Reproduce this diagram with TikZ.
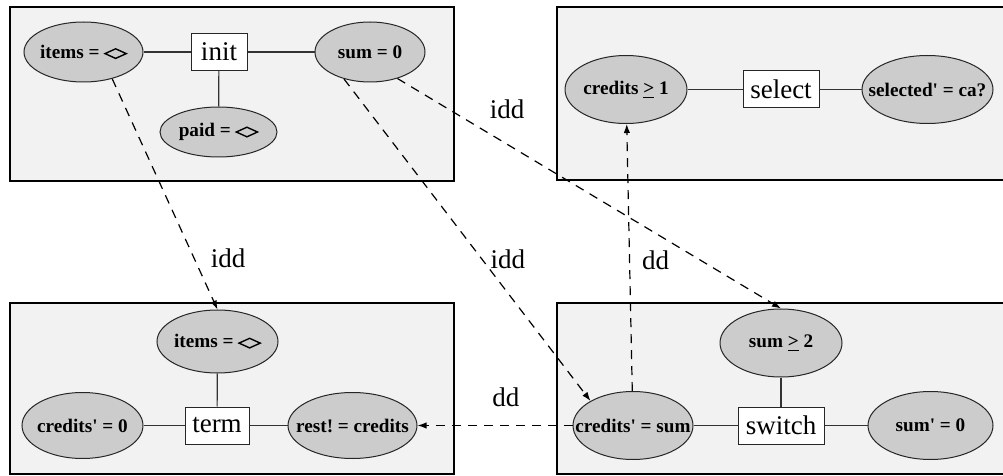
\documentclass[tikz,border=0pt]{standalone}
\usepackage{fontspec}
\setmainfont{Liberation Serif}
\usepackage{tikz}
\usetikzlibrary{arrows.meta,shapes.geometric,positioning}
\definecolor{panelgray}{HTML}{F2F2F2}
\definecolor{predgray}{HTML}{CCCCCC}
\frenchspacing
\newcommand{\emptyseq}{\tikz[baseline=0pt]\draw[line width=0.7pt,solid] (0pt,2.3pt) -- (5.3pt,4.7pt) -- (10.6pt,2.3pt) -- (5.3pt,-0.1pt) -- cycle;}
\newcommand{\ptxt}[1]{\makebox[0pt]{#1}}
\newcommand{\pr}{\textquotesingle}
\newcommand{\atleast}{\underline{>}}

\begin{document}
\begin{tikzpicture}[x=0.5pt,y=-0.5pt,>={Latex[length=4.5pt,width=3.2pt]},
  panel/.style={draw,line width=1.1pt,fill=panelgray},
  pred/.style={ellipse,draw=black!85,fill=predgray,line width=0.5pt,inner sep=0pt,font=\bfseries\fontsize{9.6}{11}\selectfont},
  opbox/.style={rectangle,draw=black!85,fill=white,line width=0.5pt,inner sep=0pt,minimum height=18.5pt,font=\fontsize{13.5}{16}\selectfont},
  link/.style={black!80,line width=0.6pt},
  dep/.style={->,dash pattern=on 4.5pt off 3.5pt,line width=0.6pt},
  deplab/.style={inner sep=0pt,font=\fontsize{13.5}{16}\selectfont}]
  \useasboundingbox (0,0) rectangle (1003,476);
  \clip (0,0) rectangle (1003,476);
  % schema boxes
  \draw[panel] (10,7) rectangle (454,181);
  \draw[panel] (557,7) rectangle (1010,180);
  \draw[panel] (10,303) rectangle (454,474);
  \draw[panel] (557,303) rectangle (1010,474);
  % init
  \node[opbox,minimum width=28pt] (init) at (219,52) {init};
  \node[pred,minimum width=59.5pt,minimum height=30pt] (itemsA) at (83.5,52) {\ptxt{items = \emptyseq}};
  \node[pred,minimum width=55pt,minimum height=30pt] (sumA) at (370,52) {\ptxt{sum = 0}};
  \node[pred,minimum width=58.5pt,minimum height=25pt] (paidA) at (218.5,132) {\ptxt{paid = \emptyseq}};
  \draw[link] (itemsA) -- (init);
  \draw[link] (init) -- (sumA);
  \draw[link] (init) -- (paidA);
  % select
  \node[opbox,minimum width=38pt] (select) at (781,89.5) {select};
  \node[pred,minimum width=61pt,minimum height=34pt] (credA) at (626,89.5) {\ptxt{credits \atleast{} 1}};
  \node[pred,minimum width=65.5pt,minimum height=34pt] (selA) at (927.5,89.5) {\ptxt{selected\pr{} = ca?}};
  \draw[link] (credA) -- (select);
  \draw[link] (select) -- (selA);
  % term
  \node[opbox,minimum width=32pt] (term) at (217,425.5) {term};
  \node[pred,minimum width=60.5pt,minimum height=31.5pt] (itemsB) at (217.5,341.5) {\ptxt{items = \emptyseq}};
  \node[pred,minimum width=60.5pt,minimum height=33pt] (credZ) at (82.5,425.5) {\ptxt{credits\pr{} = 0}};
  \node[pred,minimum width=64.5pt,minimum height=33pt] (restB) at (352.5,425.5) {\ptxt{rest! = credits}};
  \draw[link] (itemsB) -- (term);
  \draw[link] (credZ) -- (term);
  \draw[link] (term) -- (restB);
  % switch
  \node[opbox,minimum width=43pt] (switch) at (781,425.5) {switch};
  \node[pred,minimum width=61pt,minimum height=34pt] (sumB) at (781,343) {\ptxt{sum \atleast{} 2}};
  \node[pred,minimum width=60pt,minimum height=34pt] (credB) at (633,425.5) {\ptxt{credits\pr{} = sum}};
  \node[pred,minimum width=62.5pt,minimum height=34pt] (sumZ) at (930.5,425.5) {\ptxt{sum\pr{} = 0}};
  \draw[link] (sumB) -- (switch);
  \draw[link] (credB) -- (switch);
  \draw[link] (switch) -- (sumZ);
  % dependencies
  \draw[dep] (itemsA.317) -- (itemsB.north) node[deplab,pos=0.78,right=8pt] {idd};
  \draw[dep] (sumA.226) -- (credB.150) node[deplab,pos=0.56,right=4pt] {idd};
  \draw[dep] (sumA.316) -- (sumB.north) node[deplab,pos=0.286,above=12.5pt] {idd};
  \draw[dep] (credB) -- (credA) node[deplab,pos=0.49,right=6pt] {dd};
  \draw[dep] (credB) -- (restB) node[deplab,pos=0.43,above=9pt] {dd};
\end{tikzpicture}
\end{document}
